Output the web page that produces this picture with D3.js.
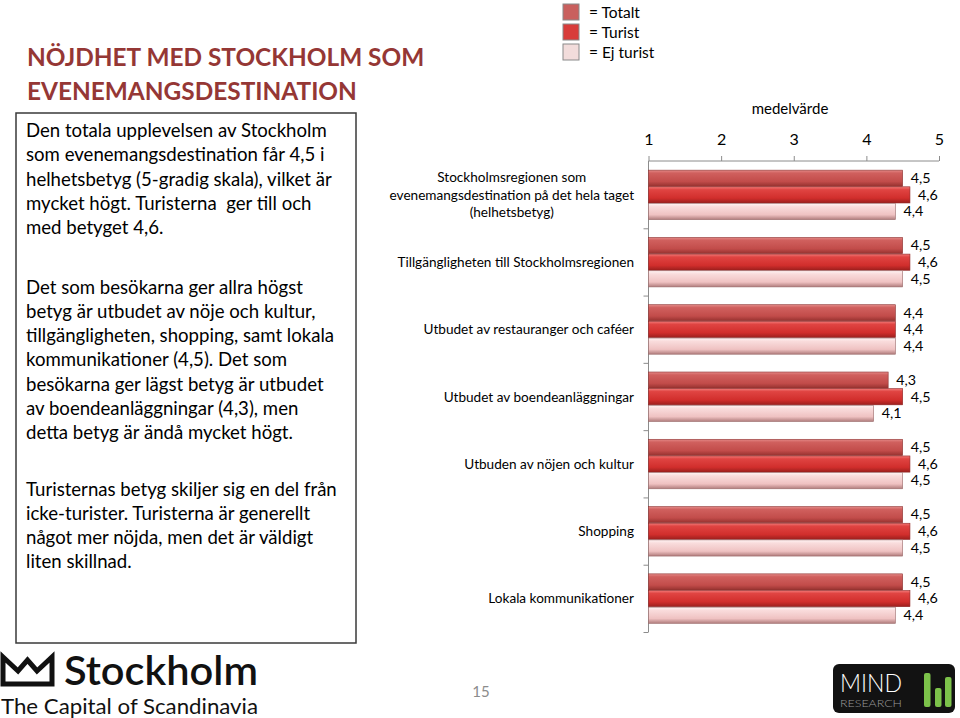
<!DOCTYPE html>
<html><head><meta charset="utf-8">
<script src="https://cdn.jsdelivr.net/npm/d3@7"></script>
<style>
html,body{margin:0;padding:0;background:#fff;}
svg{display:block;}
text{font-family:Lato,"Open Sans",sans-serif;}
</style></head>
<body><svg id="c" width="960" height="718"></svg>
<script>
// ---- data ----
const categories = [
  "Stockholmsregionen som|evenemangsdestination på det hela taget|(helhetsbetyg)",
  "Tillgängligheten till Stockholmsregionen",
  "Utbudet av restauranger och caféer",
  "Utbudet av boendeanläggningar",
  "Utbuden av nöjen och kultur",
  "Shopping",
  "Lokala kommunikationer"
];
const seriesNames = ["Totalt", "Turist", "Ej turist"];
const totalt   = [4.5, 4.5, 4.4, 4.3, 4.5, 4.5, 4.5];
const turist   = [4.6, 4.6, 4.4, 4.5, 4.6, 4.6, 4.6];
const ejTurist = [4.4, 4.5, 4.4, 4.1, 4.5, 4.5, 4.4];
const axisTicks = [1, 2, 3, 4, 5];
const axisTitle = "medelvärde";
const title = ["NÖJDHET MED STOCKHOLM SOM", "EVENEMANGSDESTINATION"];
const para1 = ["Den totala upplevelsen av Stockholm", "som evenemangsdestination får 4,5 i", "helhetsbetyg (5-gradig skala), vilket är", "mycket högt. Turisterna  ger till och", "med betyget 4,6."];
const para2 = ["Det som besökarna ger allra högst", "betyg är utbudet av nöje och kultur,", "tillgängligheten, shopping, samt lokala", "kommunikationer (4,5). Det som", "besökarna ger lägst betyg är utbudet", "av boendeanläggningar (4,3), men", "detta betyg är ändå mycket högt."];
const para3 = ["Turisternas betyg skiljer sig en del från", "icke-turister. Turisterna är generellt", "något mer nöjda, men det är väldigt", "liten skillnad."];
const pageNumber = "15";

const seriesValues = [totalt, turist, ejTurist];
const fmt = v => d3.format(".1f")(v).replace(".", ",");

const svg = d3.select("#c");
const defs = svg.append("defs");
const grads = [
  {id:"gTot", stops:[["0%","#e48a88"],["18%","#d0605e"],["70%","#c24c4a"],["100%","#96322f"]], stroke:"#8c3432", legend:"#c9605e"},
  {id:"gTur", stops:[["0%","#f27a78"],["18%","#e04442"],["70%","#d12e2c"],["100%","#9c1f1d"]], stroke:"#8e2423", legend:"#d83c3a"},
  {id:"gEj",  stops:[["0%","#fff4f4"],["20%","#f9dcdc"],["70%","#efc2c2"],["100%","#b07c7c"]], stroke:"#9a6a6a", legend:"#f2dcdb"}
];
grads.forEach(g => {
  const lg = defs.append("linearGradient").attr("id", g.id).attr("x1",0).attr("y1",0).attr("x2",0).attr("y2",1);
  g.stops.forEach(s => lg.append("stop").attr("offset", s[0]).attr("stop-color", s[1]));
});

// ---- title & text box ----
svg.append("g").selectAll("text").data(title).join("text")
  .attr("x", 27).attr("y", (d,i) => 66 + i*34)
  .attr("font-size", 24.4).attr("font-weight", 700).attr("fill", "#953735")
  .text(d => d);

svg.append("rect").attr("x", 16).attr("y", 113).attr("width", 340).attr("height", 530)
  .attr("fill", "#fff").attr("stroke", "#3a3a3a").attr("stroke-width", 1.5);

function para(lines, y0) {
  svg.append("g").selectAll("text").data(lines).join("text")
    .attr("x", 26).attr("y", (d,i) => y0 + i*24.3)
    .attr("font-size", 18.6).attr("fill", "#000")
    .style("white-space", "pre")
    .text(d => d);
}
para(para1, 137);
para(para2, 293.5);
para(para3, 495.5);

// ---- legend ----
const lg = svg.append("g");
seriesNames.forEach((s,i) => {
  lg.append("rect").attr("x", 563).attr("y", 4 + i*20).attr("width", 16).attr("height", 16)
    .attr("fill", grads[i].legend).attr("stroke", "#8a8a8a").attr("stroke-width", 1);
  lg.append("text").attr("x", 589).attr("y", 18 + i*20).attr("font-size", 15.5).attr("fill", "#000").text("= " + s);
});

// ---- scales ----
const x = d3.scaleLinear().domain([1,5]).range([648.5, 939]);
const yBand = d3.scaleBand().domain(categories).range([161, 632]).paddingInner(0.257).paddingOuter(0.1285);
const ySub = d3.scaleBand().domain(seriesNames).range([0, yBand.bandwidth()]);

// top axis
const xAxis = d3.axisTop(x).tickValues(axisTicks).tickSize(5).tickPadding(11).tickFormat(d3.format("d"));
const gx = svg.append("g").attr("transform", "translate(0,161)").call(xAxis);
gx.select(".domain").attr("stroke", "#8c8c8c").attr("d", `M${x(1)},0H${x(5)}`);
gx.selectAll(".tick line").attr("stroke", "#8c8c8c");
gx.selectAll(".tick text").attr("font-size", 16).attr("fill", "#000").attr("font-family", "Lato");

svg.append("text").attr("x", 790).attr("y", 114).attr("text-anchor", "middle")
  .attr("font-size", 15).attr("fill", "#000").text(axisTitle);

// left axis (category boundaries)
const yIdx = d3.scaleLinear().domain([0, categories.length]).range([161, 632]);
const yAxis = d3.axisLeft(yIdx).tickValues(d3.range(1, categories.length + 1)).tickSize(5).tickFormat("");
const gy = svg.append("g").attr("transform", `translate(${x(1)},0)`).call(yAxis);
gy.select(".domain").attr("stroke", "#8c8c8c").attr("d", "M0,161V632");
gy.selectAll(".tick line").attr("stroke", "#8c8c8c");

// bars
const bars = svg.append("g");
categories.forEach((c, ci) => {
  seriesNames.forEach((s, si) => {
    const v = seriesValues[si][ci];
    const y0 = yBand(c) + ySub(s);
    bars.append("rect")
      .attr("x", x(1)).attr("y", y0 + 0.5)
      .attr("width", x(v) - x(1)).attr("height", ySub.bandwidth() - 0.5)
      .attr("fill", `url(#${grads[si].id})`)
      .attr("stroke", grads[si].stroke).attr("stroke-width", 0.6);
    bars.append("text")
      .attr("x", x(v) + 8).attr("y", y0 + ySub.bandwidth()/2 + 5)
      .attr("font-size", 14.3).attr("fill", "#000").text(fmt(v));
  });
});

// category labels
const labG = svg.append("g");
categories.forEach(c => {
  const lines = c.split("|");
  const cy = yBand(c) + yBand.bandwidth()/2;
  const lh = 17.5;
  const t = labG.append("text").attr("font-size", 13.6).attr("fill", "#000");
  lines.forEach((l, i) => {
    t.append("tspan").attr("x", 634).attr("y", cy + 5 + (i - (lines.length-1)/2)*lh).text(l);
  });
  if (lines.length > 1) {
    let maxW = 0;
    t.selectAll("tspan").each(function(){ maxW = Math.max(maxW, this.getComputedTextLength()); });
    t.attr("text-anchor", "middle").selectAll("tspan").attr("x", 634 - maxW/2);
  } else {
    t.attr("text-anchor", "end");
  }
});

// page number
svg.append("text").attr("x", 481).attr("y", 697).attr("text-anchor", "middle")
  .attr("font-size", 15).attr("fill", "#8c8c8c").text(pageNumber);

// Stockholm logo
const sl = svg.append("g");
sl.append("path").attr("d", "M3,657 L18,671 L27.5,660 L37,671 L52,657 L52,684 L3,684 Z")
  .attr("fill", "none").attr("stroke", "#111").attr("stroke-width", 5).attr("stroke-linejoin", "miter");
sl.append("text").attr("x", 64).attr("y", 685).attr("font-family", "Inter, Lato, sans-serif")
  .attr("font-size", 40).attr("font-weight", 600).attr("fill", "#111")
  .attr("textLength", 194).attr("lengthAdjust", "spacingAndGlyphs").text("Stockholm");
sl.append("text").attr("x", 1).attr("y", 714).attr("font-family", "Inter, Lato, sans-serif")
  .attr("font-size", 22).attr("font-weight", 400).attr("fill", "#111")
  .attr("textLength", 257).attr("lengthAdjust", "spacingAndGlyphs").text("The Capital of Scandinavia");

// MIND research logo
const ml = svg.append("g");
ml.append("rect").attr("x", 833).attr("y", 664).attr("width", 122).attr("height", 49).attr("rx", 6).attr("fill", "#121212");
ml.append("text").attr("x", 840).attr("y", 692).attr("font-family", "Inter, sans-serif").attr("font-weight", 300)
  .attr("font-size", 26).attr("fill", "#fff").attr("textLength", 62).attr("lengthAdjust", "spacingAndGlyphs").text("MIND");
ml.append("text").attr("x", 840).attr("y", 707).attr("font-family", "Inter, sans-serif").attr("font-weight", 300)
  .attr("font-size", 10).attr("fill", "#9a9a9a").attr("textLength", 62).attr("lengthAdjust", "spacingAndGlyphs").text("RESEARCH");
[[924, 673], [935, 688], [945, 677]].forEach(b => {
  ml.append("rect").attr("x", b[0]).attr("y", b[1]).attr("width", 6.5).attr("height", 707 - b[1]).attr("rx", 2).attr("fill", "#7cc24a");
});
</script>
</body></html>
